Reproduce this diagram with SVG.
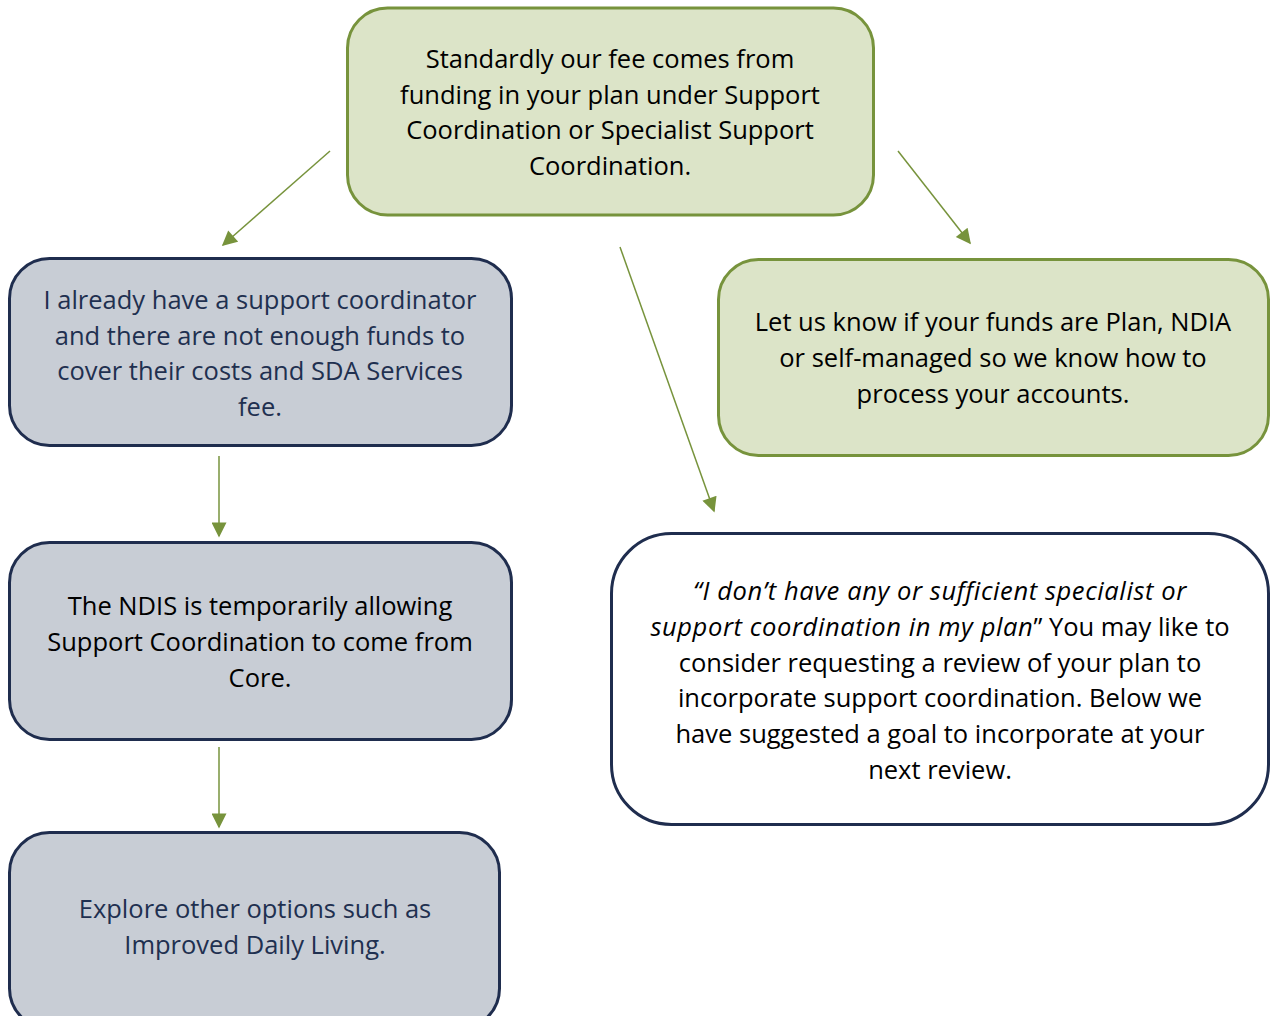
<svg xmlns="http://www.w3.org/2000/svg" width="1271" height="1016" viewBox="0 0 1271 1016">
<defs>
<style>
.green{fill:#DCE4C8;stroke:#77933C;stroke-width:3}
.gray{fill:#C8CDD5;stroke:#1F2D4E;stroke-width:3}
.white{fill:#FFFFFF;stroke:#1F2D4E;stroke-width:3}
text{font-family:"Open Sans","Liberation Sans",sans-serif;font-size:25.5px;text-anchor:middle}
.dark{fill:#000000}
.navy{fill:#1F3050}
.it{font-style:italic;letter-spacing:0.6px}
.conn line{stroke:#77933C;stroke-width:1.5;fill:none}
</style>
<marker id="ah" viewBox="0 0 10 10" refX="9" refY="5" markerWidth="17" markerHeight="15" markerUnits="userSpaceOnUse" orient="auto">
<path d="M0,0 L10,5 L0,10 z" fill="#77933C"/>
</marker>
</defs>
<rect width="1271" height="1016" fill="#FFFFFF"/>
<g id="connectors" class="conn">
<line x1="330" y1="151" x2="223" y2="245" marker-end="url(#ah)"/>
<line x1="898" y1="151" x2="970" y2="243" marker-end="url(#ah)"/>
<line x1="620" y1="247" x2="714" y2="511" marker-end="url(#ah)"/>
<line x1="219" y1="456" x2="219" y2="536" marker-end="url(#ah)"/>
<line x1="219" y1="747" x2="219" y2="827" marker-end="url(#ah)"/>
</g>
<g id="node-top">
<rect class="green" x="347.5" y="8" width="526" height="207" rx="40"/>
<text class="dark"><tspan x="610" y="68">Standardly our fee comes from</tspan><tspan x="610" y="103.5">funding in your plan under Support</tspan><tspan x="610" y="139">Coordination or Specialist Support</tspan><tspan x="610" y="174.5">Coordination.</tspan></text>
</g>
<g id="node-existing">
<rect class="gray" x="9.5" y="258.5" width="502" height="187" rx="40"/>
<text class="navy"><tspan x="260" y="309">I already have a support coordinator</tspan><tspan x="260" y="344.5">and there are not enough funds to</tspan><tspan x="260" y="380">cover their costs and SDA Services</tspan><tspan x="260" y="415.5">fee.</tspan></text>
</g>
<g id="node-funds">
<rect class="green" x="718.5" y="259.5" width="550" height="196" rx="40"/>
<text class="dark"><tspan x="993" y="331">Let us know if your funds are Plan, NDIA</tspan><tspan x="993" y="367">or self-managed so we know how to</tspan><tspan x="993" y="403">process your accounts.</tspan></text>
</g>
<g id="node-core">
<rect class="gray" x="9.5" y="542.5" width="502" height="197" rx="40"/>
<text class="dark"><tspan x="260" y="615">The NDIS is temporarily allowing</tspan><tspan x="260" y="651">Support Coordination to come from</tspan><tspan x="260" y="687">Core.</tspan></text>
</g>
<g id="node-review">
<rect class="white" x="611.5" y="533.5" width="657" height="291" rx="60"/>
<text class="dark"><tspan x="940" y="600"><tspan class="it">“I don’t have any or sufficient specialist or</tspan></tspan><tspan x="940" y="636"><tspan class="it">support coordination in my plan</tspan>” You may like to</tspan><tspan x="940" y="671.5">consider requesting a review of your plan to</tspan><tspan x="940" y="707">incorporate support coordination. Below we</tspan><tspan x="940" y="743">have suggested a goal to incorporate at your</tspan><tspan x="940" y="779">next review.</tspan></text>
</g>
<g id="node-explore">
<rect class="gray" x="9.5" y="832.5" width="490" height="196" rx="40"/>
<text class="navy"><tspan x="255" y="918">Explore other options such as</tspan><tspan x="255" y="954">Improved Daily Living.</tspan></text>
</g>
</svg>
